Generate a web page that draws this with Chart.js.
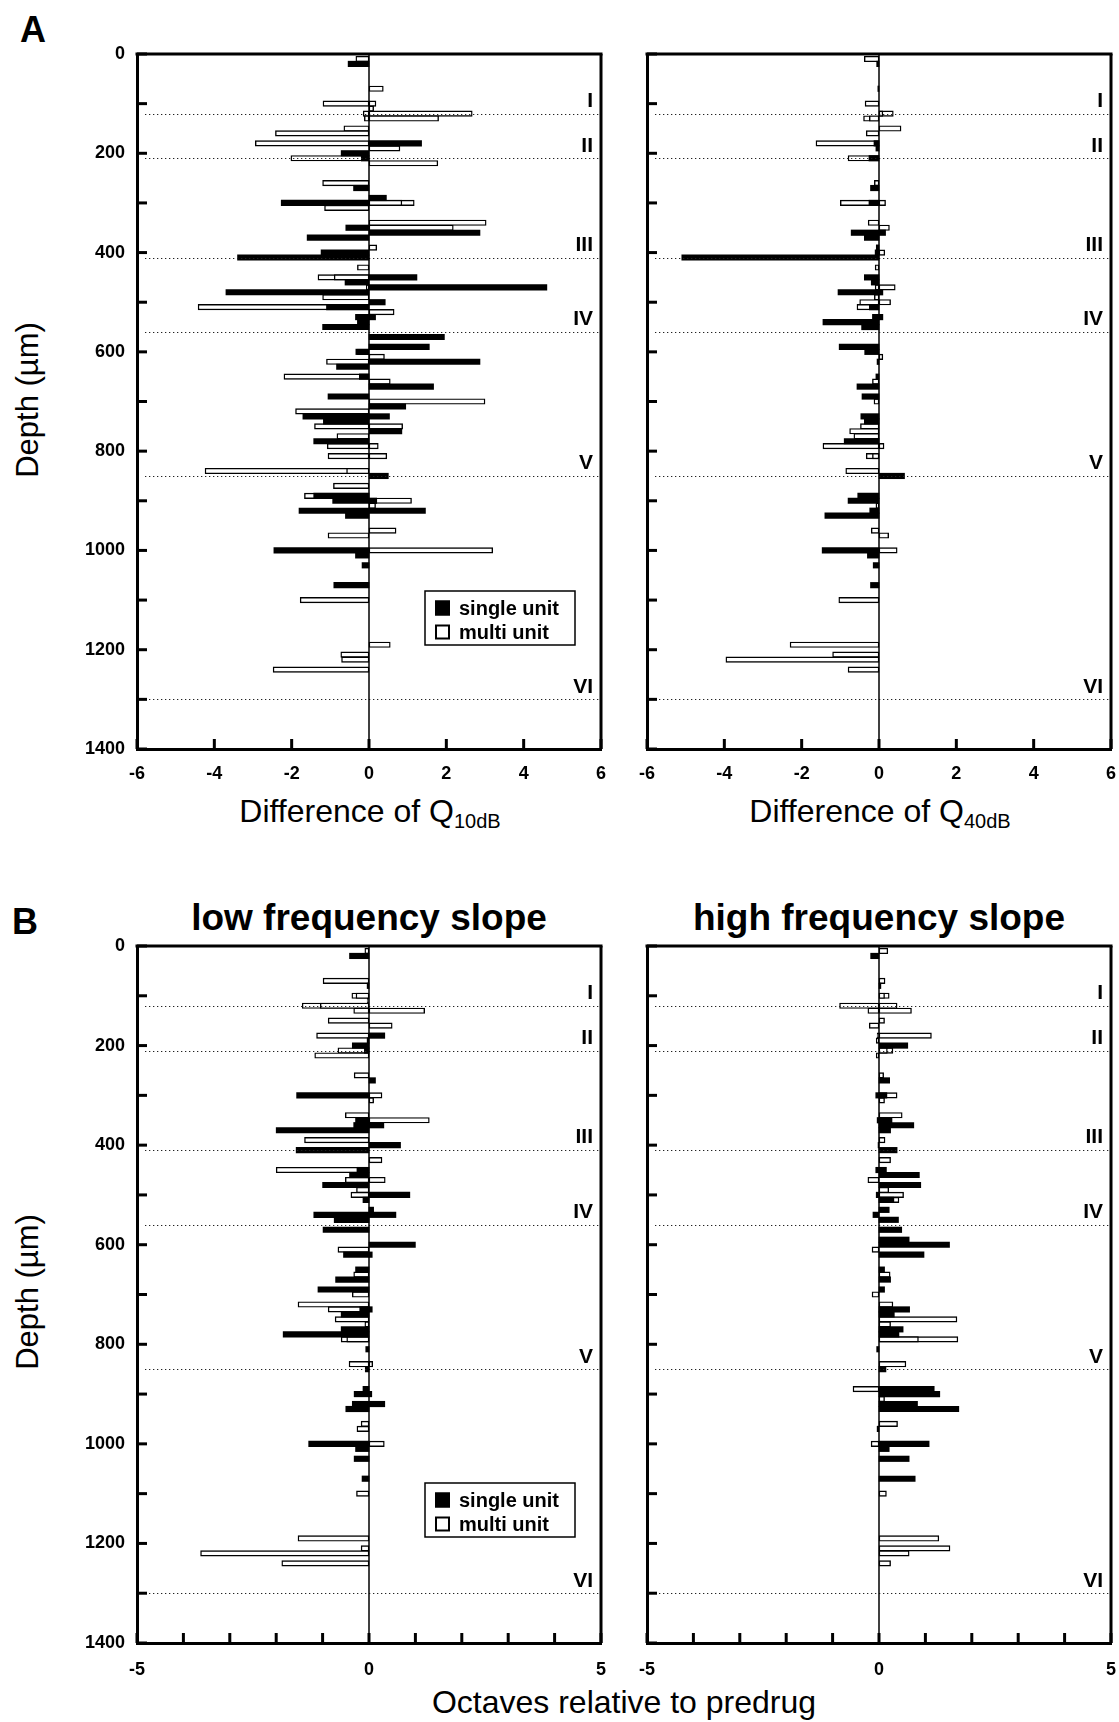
<!DOCTYPE html>
<html>
<head>
<meta charset="utf-8">
<script src="https://cdn.jsdelivr.net/npm/chart.js@4.4.1/dist/chart.umd.min.js"></script>
<style>
  body { margin: 0; background: #fff; width: 1119px; height: 1722px; position: relative; overflow: hidden;
         font-family: 'Liberation Sans', Arial, Helvetica, sans-serif; color: #000; }
  canvas { position: absolute; }
  .t { position: absolute; white-space: nowrap; line-height: 1; }
  .panel { font-weight: bold; font-size: 36px; }
  .head { font-weight: bold; font-size: 37px; transform: translateX(-50%); }
  .axis { font-size: 32px; transform: translateX(-50%); }
  .depth { font-size: 31px; transform: translate(-50%, -50%) rotate(-90deg); }
  .sub { font-size: 20px; vertical-align: -6px; }
</style>
</head>
<body>
<div class="t panel" style="left:20px;top:12px">A</div>
<div class="t panel" style="left:12px;top:904px">B</div>

<div class="t depth" style="left:27px;top:400px">Depth (µm)</div>
<div class="t depth" style="left:27px;top:1292px">Depth (µm)</div>

<div class="t axis" style="left:370px;top:795px">Difference of Q<span class="sub">10dB</span></div>
<div class="t axis" style="left:880px;top:795px">Difference of Q<span class="sub">40dB</span></div>

<div class="t head" style="left:369px;top:899px">low frequency slope</div>
<div class="t head" style="left:879px;top:899px">high frequency slope</div>

<div class="t axis" style="left:624px;top:1686px">Octaves relative to predrug</div>

<canvas id="q10" width="548" height="759" style="left:77px;top:30px"></canvas>
<canvas id="q40" width="548" height="759" style="left:587px;top:30px"></canvas>
<canvas id="low" width="548" height="761" style="left:77px;top:922px"></canvas>
<canvas id="high" width="548" height="761" style="left:587px;top:922px"></canvas>

<script>
const FONT = "'Liberation Sans', Arial, Helvetica, sans-serif";

// cortical layer boundaries (µm) and their names
const layerDepths = [120, 210, 410, 560, 850, 1300];
const layerNames = ['I', 'II', 'III', 'IV', 'V', 'VI'];

// [depth µm, change] pairs — Q10dB difference
const q10Single = [[20,-0.54],[180,1.36],[200,-0.72],[210,-0.2],[270,-0.4],[290,0.45],[300,-2.27],[350,-0.6],
  [360,2.87],[370,-1.6],[400,-1.24],[410,-3.4],[450,1.24],[460,-0.62],[470,4.6],[480,-3.7],[500,0.42],[510,-1.1],
  [530,-0.35],[530,0.17],[540,-0.3],[550,-1.2],[570,1.95],[590,1.56],[600,-0.34],[620,2.87],[630,-0.84],[650,-0.25],
  [670,1.67],[690,-1.06],[710,0.95],[730,-1.71],[730,0.53],[740,-1.18],[760,0.85],[780,-1.43],[850,0.5],[890,-1.43],
  [900,-0.94],[900,0.2],[920,-1.81],[920,1.46],[930,-0.61],[1000,-2.46],[1010,-0.35],[1030,-0.18],[1070,-0.91]];
const q10Multi = [[10,-0.34],[70,0.37],[100,-1.19],[100,0.18],[110,0.12],[120,2.67],[120,-0.15],[130,1.8],[130,-0.12],
  [150,-0.65],[160,-2.42],[180,-2.94],[190,0.8],[210,-2.02],[220,1.78],[260,-1.2],[300,1.17],[300,0.85],[310,-1.15],
  [340,3.03],[350,2.18],[390,0.2],[430,-0.3],[450,-1.32],[450,-0.9],[470,-0.07],[490,-1.2],[510,-4.42],[520,0.65],
  [600,-0.3],[610,0.4],[620,-1.1],[650,-2.2],[660,0.55],[700,3.0],[720,-1.9],[750,-1.41],[750,0.87],[770,-0.83],
  [790,-1.08],[790,0.24],[810,-1.06],[810,0.46],[840,-4.24],[840,-0.58],[870,-0.92],[890,-1.67],[900,1.1],[910,0.17],
  [960,0.7],[970,-1.06],[1000,3.2],[1100,-1.78],[1190,0.55],[1210,-0.73],[1220,-0.71],[1240,-2.48]];

// Q40dB difference
const q40Single = [[20,-0.06],[70,-0.03],[180,-0.13],[190,-0.08],[210,-0.26],[270,-0.22],[300,-0.26],[360,-0.72],
  [360,0.17],[370,-0.38],[390,-0.07],[400,-0.1],[410,-5.1],[450,-0.38],[460,-0.2],[480,-1.06],[480,0.1],[510,-0.25],
  [530,-0.17],[530,0.1],[540,-1.45],[550,-0.45],[590,-1.03],[600,-0.37],[620,-0.05],[650,-0.08],[670,-0.57],
  [690,-0.44],[730,-0.47],[740,-0.38],[780,-0.9],[850,0.66],[890,-0.55],[900,-0.8],[920,-0.24],[930,-1.4],
  [1000,-1.47],[1010,-0.3],[1030,-0.15],[1070,-0.22]];
const q40Multi = [[10,-0.38],[100,-0.36],[120,0.37],[120,0.1],[130,-0.4],[130,-0.25],[150,0.57],[160,-0.33],
  [180,-1.63],[210,-0.8],[260,-0.12],[300,-1.0],[300,0.17],[340,-0.28],[350,0.27],[400,0.15],[430,-0.1],[470,0.42],
  [470,-0.1],[490,-0.12],[500,-0.5],[500,0.3],[510,-0.57],[610,0.1],[660,-0.17],[700,-0.13],[750,-0.48],[760,-0.76],
  [770,-0.65],[790,-1.45],[790,0.13],[810,-0.33],[810,-0.17],[840,-0.86],[910,-0.08],[960,-0.2],[970,0.25],
  [1000,0.47],[1100,-1.04],[1190,-2.3],[1210,-1.2],[1220,-3.96],[1240,-0.8]];

// low frequency slope (octaves)
const lowSingle = [[20,-0.42],[80,-0.04],[180,0.34],[190,-0.04],[200,-0.36],[210,-0.1],[270,0.14],[300,-1.56],
  [350,-0.29],[360,-0.33],[360,0.32],[370,-2.0],[400,0.68],[410,-1.57],[450,-0.26],[460,-0.42],[480,-1.0],[500,0.88],
  [510,-0.13],[530,0.1],[540,-1.19],[540,0.58],[550,-0.75],[570,-0.99],[600,1.0],[620,-0.55],[620,0.07],[650,-0.29],
  [670,-0.72],[690,-1.1],[730,-0.2],[730,0.07],[740,-0.6],[770,-0.6],[780,-1.85],[810,-0.07],[850,-0.08],[890,-0.13],
  [900,-0.32],[900,0.06],[920,-0.36],[920,0.34],[930,-0.5],[1000,-1.3],[1010,-0.29],[1030,-0.32],[1070,-0.15]];
const lowMulti = [[10,-0.09],[70,-0.99],[100,-0.37],[100,-0.28],[110,-0.04],[120,-1.44],[120,-1.05],[130,-0.33],
  [130,1.2],[150,-0.88],[160,0.5],[180,-1.13],[210,-0.67],[220,-1.17],[260,-0.32],[300,0.28],[310,0.1],[340,-0.51],
  [350,1.3],[390,-1.39],[430,0.28],[450,-2.0],[470,-0.51],[470,0.35],[490,-0.27],[500,-0.39],[610,-0.67],[660,-0.33],
  [700,-0.36],[720,-1.53],[730,-0.88],[750,-0.73],[760,-0.09],[790,-0.6],[790,-0.48],[840,-0.43],[840,0.08],
  [960,-0.17],[970,-0.26],[1000,0.33],[1100,-0.27],[1190,-1.53],[1210,-0.17],[1220,-3.63],[1240,-1.88]];

// high frequency slope (octaves)
const highSingle = [[20,-0.18],[80,0.04],[200,0.62],[270,0.23],[300,-0.07],[300,0.17],[350,-0.04],[350,0.28],
  [360,0.75],[370,0.25],[400,-0.02],[410,0.39],[450,-0.07],[450,0.16],[460,0.87],[480,0.9],[500,-0.06],[510,0.32],
  [530,0.22],[540,-0.13],[550,0.42],[570,0.49],[590,0.65],[600,1.52],[620,0.97],[650,0.12],[670,0.25],[690,0.12],
  [730,0.66],[740,0.33],[770,0.52],[780,0.43],[810,-0.05],[850,0.15],[890,1.19],[900,1.31],[920,0.83],[930,1.72],
  [970,-0.04],[1000,1.08],[1010,0.22],[1030,0.65],[1070,0.78]];
const highMulti = [[10,0.19],[70,0.13],[100,0.22],[100,0.12],[120,-0.85],[120,0.39],[130,-0.24],[130,0.7],[150,0.12],
  [160,-0.21],[180,1.13],[180,-0.04],[190,-0.06],[210,0.3],[210,0.18],[220,-0.06],[260,0.1],[300,0.39],[310,0.12],
  [340,0.5],[390,0.13],[430,0.25],[470,-0.24],[490,0.21],[500,0.53],[510,0.43],[610,-0.15],[660,0.24],[700,-0.15],
  [720,0.3],[750,1.68],[760,0.25],[790,1.7],[790,0.85],[840,0.58],[890,-0.56],[910,0.12],[960,0.4],[1000,-0.17],
  [1100,0.16],[1190,1.29],[1210,1.53],[1220,0.65],[1240,0.25]];

const seriesNames = ['single unit', 'multi unit'];

Chart.defaults.font.family = FONT;
Chart.defaults.color = '#000';

// layer lines, zero line, inward ticks, closed frame, layer names, legend box
const framePlugin = {
  id: 'frame',
  afterDatasetsDraw(chart, args, o) {
    const { ctx, chartArea: a, scales: { x, y } } = chart;
    const line = (x1, y1, x2, y2) => { ctx.beginPath(); ctx.moveTo(x1, y1); ctx.lineTo(x2, y2); ctx.stroke(); };
    ctx.save();
    ctx.strokeStyle = '#222'; ctx.lineWidth = 1; ctx.setLineDash([1.3, 2.7]);
    layerDepths.forEach(d => { const py = Math.round(y.getPixelForValue(d)) + 0.5; line(a.left + 8, py, a.right, py); });
    ctx.setLineDash([]);

    ctx.strokeStyle = '#000'; ctx.lineWidth = 1.5;
    const x0 = x.getPixelForValue(0);
    line(x0, a.top, x0, a.bottom);

    ctx.fillStyle = '#000'; ctx.font = 'bold 21px ' + FONT; ctx.textAlign = 'right'; ctx.textBaseline = 'middle';
    layerNames.forEach((n, i) => ctx.fillText(n, a.right - 8, y.getPixelForValue(layerDepths[i] - 25)));

    ctx.lineWidth = 3;
    y.ticks.forEach(t => { const py = y.getPixelForValue(t.value); line(a.left, py, a.left + 10, py); });
    x.ticks.forEach(t => { const px = x.getPixelForValue(t.value); line(px, a.bottom, px, a.bottom - 10); });
    line(a.left - 1.5, a.top, a.right + 1.5, a.top);
    line(a.right, a.top, a.right, a.bottom);

    const L = o.legend;
    if (L) {
      const lx = a.left + L.dx, ly = a.top + L.dy;
      ctx.fillStyle = '#fff'; ctx.fillRect(lx, ly, L.w, L.h);
      ctx.lineWidth = 1.5; ctx.strokeRect(lx, ly, L.w, L.h);
      ctx.font = 'bold 20px ' + FONT; ctx.textAlign = 'left';
      chart.data.datasets.forEach((ds, i) => {
        const cy = ly + 17 + i * 24;
        ctx.fillStyle = ds.backgroundColor; ctx.fillRect(lx + 10, cy - 7.5, 15, 15);
        ctx.lineWidth = 2; ctx.strokeRect(lx + 11, cy - 6.5, 13, 13);
        ctx.fillStyle = '#000'; ctx.fillText(ds.label, lx + 34, cy + 1);
      });
    }
    ctx.restore();
  }
};

const pts = arr => arr.map(([d, v]) => ({ x: v, y: d }));

function panel(id, single, multi, { xMin, xMax, xStep, xLabel, yLabels, labelPad, legend }) {
  return new Chart(document.getElementById(id), {
    type: 'bar',
    data: {
      datasets: [
        { label: seriesNames[0], data: pts(single), backgroundColor: '#000', borderColor: '#000', borderWidth: 0 },
        { label: seriesNames[1], data: pts(multi), backgroundColor: '#fff', borderColor: '#000', borderWidth: 1.4 }
      ]
    },
    options: {
      indexAxis: 'y', responsive: false, animation: false,
      // room for the scales' own label overhang so the plot box stays put
      layout: { padding: { top: 24, right: 24, left: 0, bottom: 0 } },
      datasets: { bar: { grouped: false, barThickness: 5.5, borderSkipped: false } },
      plugins: { legend: { display: false }, tooltip: { enabled: false }, frame: { legend } },
      scales: {
        x: {
          type: 'linear', min: xMin, max: xMax, offset: false,
          grid: { display: false, drawTicks: false },
          border: { display: true, width: 3, color: '#000' },
          ticks: { stepSize: xStep, autoSkip: false, maxRotation: 0, padding: labelPad,
                   font: { size: 18, weight: 'bold' }, callback: xLabel },
          afterFit: s => { s.height = 40; }
        },
        y: {
          type: 'linear', reverse: true, min: 0, max: 1400, offset: false,
          grid: { display: false, drawTicks: false },
          border: { display: true, width: 3, color: '#000' },
          ticks: { stepSize: 100, autoSkip: false, padding: 12, font: { size: 18, weight: 'bold' },
                   callback: v => (yLabels && v % 200 === 0 ? v : '') },
          afterFit: s => { s.width = 60; }
        }
      }
    },
    plugins: [framePlugin]
  });
}

const everyTick = v => v;
const fives = v => (v % 5 === 0 ? v : '');
const legendBox = { dx: 288, dy: 537, w: 150, h: 54 };

panel('q10', q10Single, q10Multi, { xMin: -6, xMax: 6, xStep: 2, xLabel: everyTick, yLabels: true, labelPad: 14, legend: legendBox });
panel('q40', q40Single, q40Multi, { xMin: -6, xMax: 6, xStep: 2, xLabel: everyTick, yLabels: false, labelPad: 14 });
panel('low', lowSingle, lowMulti, { xMin: -5, xMax: 5, xStep: 1, xLabel: fives, yLabels: true, labelPad: 16, legend: legendBox });
panel('high', highSingle, highMulti, { xMin: -5, xMax: 5, xStep: 1, xLabel: fives, yLabels: false, labelPad: 16 });
</script>
</body>
</html>
